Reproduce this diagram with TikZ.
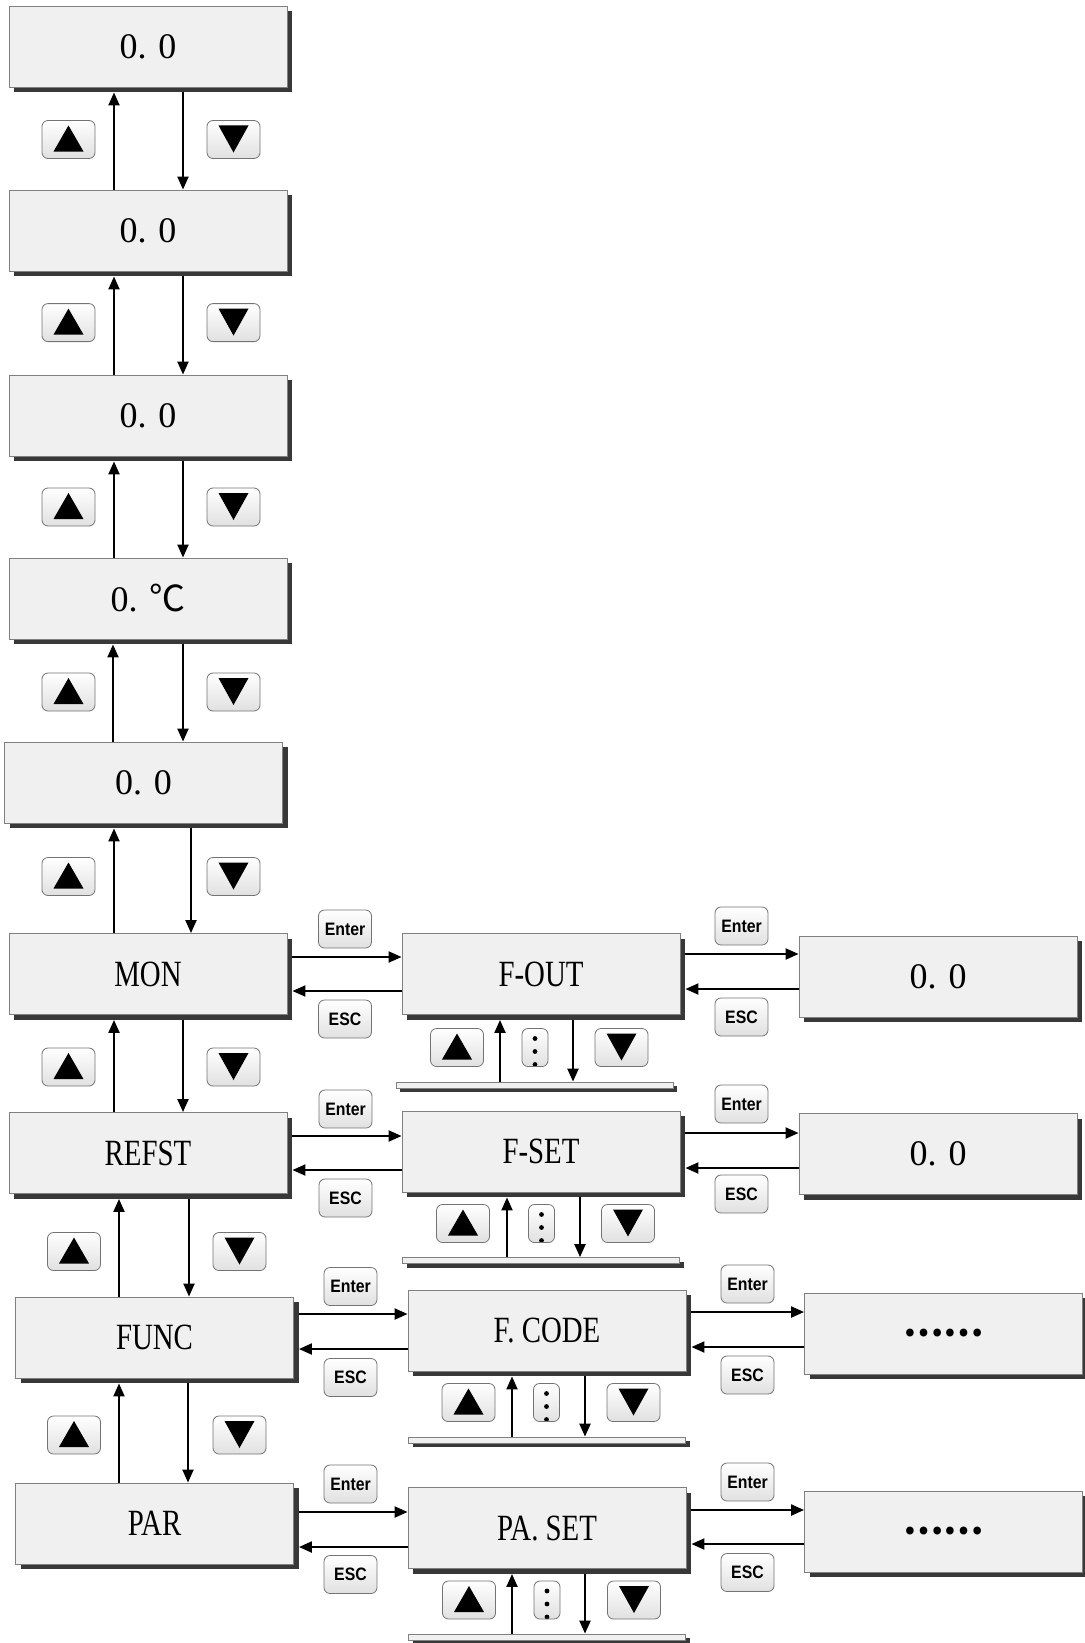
\documentclass[tikz,border=0pt]{standalone}
\usepackage{fontspec}
\setmainfont{Liberation Serif}
\newfontfamily\menufont[FakeStretch=0.78]{Liberation Serif}
\newfontfamily\keyfont[FakeStretch=0.88]{Liberation Sans Bold}
\newfontfamily\cjk{Noto Sans CJK SC}
\usetikzlibrary{arrows.meta,shadows}
\definecolor{scrfill}{HTML}{F0F0F0}
\definecolor{scrline}{HTML}{808080}
\definecolor{scrshade}{HTML}{383838}
\tikzset{
  arw/.style={-{Triangle[length=13pt,width=11pt]},line width=2.2pt,black},
  scr/.style={draw=scrline,fill=scrfill,line width=0.9pt,minimum width=278pt,
    minimum height=81pt,inner sep=0pt,
    drop shadow={shadow xshift=5pt,shadow yshift=-5pt,fill=scrshade,opacity=1}},
  bar/.style={draw=scrline,fill=scrfill,line width=0.8pt,minimum width=277pt,
    minimum height=6pt,inner sep=0pt,
    drop shadow={shadow xshift=4pt,shadow yshift=-4pt,fill=scrshade,opacity=1}},
  val/.style={font=\fontsize{36}{40}\selectfont},
  menu/.style={font=\menufont\fontsize{37}{40}\selectfont}
}

\begin{document}
\begin{tikzpicture}[x=1pt,y=-1pt,
  keyb/.style={draw=black!55,line width=0.8pt,rounded corners=6pt,top color=white,
    bottom color=black!12,minimum width=53pt,minimum height=38pt,inner sep=0pt,
    font=\keyfont\fontsize{18}{20}\selectfont},
  kup/.style={keyb,path picture={\fill[black,sharp corners]
    ([shift={(-15pt,-12pt)}]path picture bounding box.center) -- ++(30pt,0pt)
    -- ++(-15pt,26pt) -- cycle;}},
  kdn/.style={keyb,path picture={\fill[black,sharp corners]
    ([shift={(-15pt,14pt)}]path picture bounding box.center) -- ++(30pt,0pt)
    -- ++(-15pt,-27pt) -- cycle;}},
  kdot/.style={keyb,minimum width=26pt,path picture={\foreach \d in {9,-4,-17}
    \fill[black] ([yshift=\d pt]path picture bounding box.center) circle (2.4pt);}}]
\useasboundingbox (0,0) rectangle (1084,1643);
\node[scr,val] (v1) at (148,46.5) {0. 0};
\node[scr,val] (v2) at (148,230.5) {0. 0};
\node[scr,val] (v3) at (148,415.5) {0. 0};
\node[scr,val] (v4) at (148,598.5) {0. {\cjk ℃}};
\node[scr,val] (v5) at (143.5,782.5) {0. 0};
\node[scr,menu] (mon) at (148,974) {MON};
\node[scr,menu] (refst) at (148,1153) {REFST};
\node[scr,menu] (func) at (154.5,1337.5) {FUNC};
\node[scr,menu] (par) at (154.5,1523.5) {PAR};
\node[scr,menu] (fout) at (541,974) {F-OUT};
\node[scr,menu] (fset) at (541,1151.5) {F-SET};
\node[scr,menu] (fcode) at (547,1330.5) {F. CODE};
\node[scr,menu] (paset) at (547,1528) {PA. SET};
\node[scr,val] (o1) at (938,976.5) {0. 0};
\node[scr,val] (o2) at (938,1154) {0. 0};
\node[scr,val] (o3) at (943.5,1333.5) {\cjk\bfseries ……};
\node[scr,val] (o4) at (943.5,1531.5) {\cjk\bfseries ……};
\node[bar] (bar1) at (534.5,1085) {};
\node[bar] (bar2) at (541,1260.5) {};
\node[bar] (bar3) at (547,1440) {};
\node[bar] (bar4) at (547,1637) {};
\node[kup] (u1) at (68.5,139.5) {};
\node[kdn] (d1) at (233.5,139.5) {};
\node[kup] (u2) at (68.5,322.6) {};
\node[kdn] (d2) at (233.5,322.6) {};
\node[kup] (u3) at (68.5,507) {};
\node[kdn] (d3) at (233.5,507) {};
\node[kup] (u4) at (68.5,692) {};
\node[kdn] (d4) at (233.5,692) {};
\node[kup] (u5) at (68.5,876.5) {};
\node[kdn] (d5) at (233.5,876.5) {};
\node[kup] (u6) at (68.5,1067) {};
\node[kdn] (d6) at (233.5,1067) {};
\node[kup] (u7) at (74,1251.5) {};
\node[kdn] (d7) at (239.5,1251.5) {};
\node[kup] (u8) at (74,1435) {};
\node[kdn] (d8) at (239.5,1435) {};
\node[kup] (mu1) at (457,1047.5) {};
\node[kdot] (md1) at (535,1047.5) {};
\node[kdn] (mn1) at (621.5,1047.5) {};
\node[kup] (mu2) at (463,1223.5) {};
\node[kdot] (md2) at (541.5,1223.5) {};
\node[kdn] (mn2) at (628,1223.5) {};
\node[kup] (mu3) at (468.5,1402.5) {};
\node[kdot] (md3) at (546.5,1402.5) {};
\node[kdn] (mn3) at (633.5,1402.5) {};
\node[kup] (mu4) at (469,1600) {};
\node[kdot] (md4) at (547,1600) {};
\node[kdn] (mn4) at (634,1600) {};
\node[keyb] (en1) at (345,929) {Enter};
\node[keyb] (es1) at (345,1019) {ESC};
\node[keyb] (en2) at (345.5,1109) {Enter};
\node[keyb] (es2) at (345.5,1198) {ESC};
\node[keyb] (en3) at (350.5,1286.5) {Enter};
\node[keyb] (es3) at (350.5,1377.5) {ESC};
\node[keyb] (en4) at (350.5,1484) {Enter};
\node[keyb] (es4) at (350.5,1574.5) {ESC};
\node[keyb] (ren1) at (741.5,926) {Enter};
\node[keyb] (res1) at (741.5,1017) {ESC};
\node[keyb] (ren2) at (741.5,1104) {Enter};
\node[keyb] (res2) at (741.5,1194) {ESC};
\node[keyb] (ren3) at (747.5,1284) {Enter};
\node[keyb] (res3) at (747.5,1375) {ESC};
\node[keyb] (ren4) at (747.5,1482) {Enter};
\node[keyb] (res4) at (747.5,1572.5) {ESC};
\draw[arw] ([xshift=-34pt]v2.north) -- ([xshift=-34pt,yshift=-5pt]v2.north |- v1.south);
\draw[arw] ([xshift=35pt,yshift=-5pt]v1.south) -- ([xshift=35pt]v1.south |- v2.north);
\draw[arw] ([xshift=-34pt]v3.north) -- ([xshift=-34pt,yshift=-5pt]v3.north |- v2.south);
\draw[arw] ([xshift=35pt,yshift=-5pt]v2.south) -- ([xshift=35pt]v2.south |- v3.north);
\draw[arw] ([xshift=-34pt]v4.north) -- ([xshift=-34pt,yshift=-5pt]v4.north |- v3.south);
\draw[arw] ([xshift=35pt,yshift=-5pt]v3.south) -- ([xshift=35pt]v3.south |- v4.north);
\draw[arw] ([xshift=-30.5pt]v5.north) -- ([xshift=-30.5pt,yshift=-5pt]v5.north |- v4.south);
\draw[arw] ([xshift=35pt,yshift=-5pt]v4.south) -- ([xshift=35pt]v4.south |- v5.north);
\draw[arw] ([xshift=-34pt]mon.north) -- ([xshift=-34pt,yshift=-5pt]mon.north |- v5.south);
\draw[arw] ([xshift=47.5pt,yshift=-5pt]v5.south) -- ([xshift=47.5pt]v5.south |- mon.north);
\draw[arw] ([xshift=-34pt]refst.north) -- ([xshift=-34pt,yshift=-5pt]refst.north |- mon.south);
\draw[arw] ([xshift=35pt,yshift=-5pt]mon.south) -- ([xshift=35pt]mon.south |- refst.north);
\draw[arw] ([xshift=-35.5pt]func.north) -- ([xshift=-35.5pt,yshift=-5pt]func.north |- refst.south);
\draw[arw] ([xshift=41pt,yshift=-5pt]refst.south) -- ([xshift=41pt]refst.south |- func.north);
\draw[arw] ([xshift=-35.5pt]par.north) -- ([xshift=-35.5pt,yshift=-5pt]par.north |- func.south);
\draw[arw] ([xshift=33.5pt,yshift=-5pt]func.south) -- ([xshift=33.5pt]func.south |- par.north);
\draw[arw] ([xshift=-41pt]fout.south |- bar1.north) -- ([xshift=-41pt,yshift=-5pt]fout.south);
\draw[arw] ([xshift=32pt,yshift=-5pt]fout.south) -- ([xshift=32pt]fout.south |- bar1.north);
\draw[arw] ([xshift=-34pt]fset.south |- bar2.north) -- ([xshift=-34pt,yshift=-5pt]fset.south);
\draw[arw] ([xshift=39pt,yshift=-5pt]fset.south) -- ([xshift=39pt]fset.south |- bar2.north);
\draw[arw] ([xshift=-35pt]fcode.south |- bar3.north) -- ([xshift=-35pt,yshift=-5pt]fcode.south);
\draw[arw] ([xshift=38pt,yshift=-5pt]fcode.south) -- ([xshift=38pt]fcode.south |- bar3.north);
\draw[arw] ([xshift=-35pt]paset.south |- bar4.north) -- ([xshift=-35pt,yshift=-5pt]paset.south);
\draw[arw] ([xshift=38pt,yshift=-5pt]paset.south) -- ([xshift=38pt]paset.south |- bar4.north);
\draw[arw] ([xshift=5pt,yshift=17pt]fout.west -| mon.east) -- ([yshift=17pt]fout.west);
\draw[arw] ([yshift=-17pt]fout.west) -- ([xshift=5pt,yshift=-17pt]fout.west -| mon.east);
\draw[arw] ([xshift=5pt,yshift=20pt]fout.east) -- ([yshift=20pt]fout.east -| o1.west);
\draw[arw] ([yshift=-15pt]fout.east -| o1.west) -- ([xshift=5pt,yshift=-15pt]fout.east);
\draw[arw] ([xshift=5pt,yshift=15.5pt]fset.west -| refst.east) -- ([yshift=15.5pt]fset.west);
\draw[arw] ([yshift=-18.5pt]fset.west) -- ([xshift=5pt,yshift=-18.5pt]fset.west -| refst.east);
\draw[arw] ([xshift=5pt,yshift=18.5pt]fset.east) -- ([yshift=18.5pt]fset.east -| o2.west);
\draw[arw] ([yshift=-16.5pt]fset.east -| o2.west) -- ([xshift=5pt,yshift=-16.5pt]fset.east);
\draw[arw] ([xshift=5pt,yshift=16.5pt]fcode.west -| func.east) -- ([yshift=16.5pt]fcode.west);
\draw[arw] ([yshift=-18.5pt]fcode.west) -- ([xshift=5pt,yshift=-18.5pt]fcode.west -| func.east);
\draw[arw] ([xshift=5pt,yshift=18.5pt]fcode.east) -- ([yshift=18.5pt]fcode.east -| o3.west);
\draw[arw] ([yshift=-16.5pt]fcode.east -| o3.west) -- ([xshift=5pt,yshift=-16.5pt]fcode.east);
\draw[arw] ([xshift=5pt,yshift=16pt]paset.west -| par.east) -- ([yshift=16pt]paset.west);
\draw[arw] ([yshift=-19pt]paset.west) -- ([xshift=5pt,yshift=-19pt]paset.west -| par.east);
\draw[arw] ([xshift=5pt,yshift=18pt]paset.east) -- ([yshift=18pt]paset.east -| o4.west);
\draw[arw] ([yshift=-16pt]paset.east -| o4.west) -- ([xshift=5pt,yshift=-16pt]paset.east);
\end{tikzpicture}
\end{document}
